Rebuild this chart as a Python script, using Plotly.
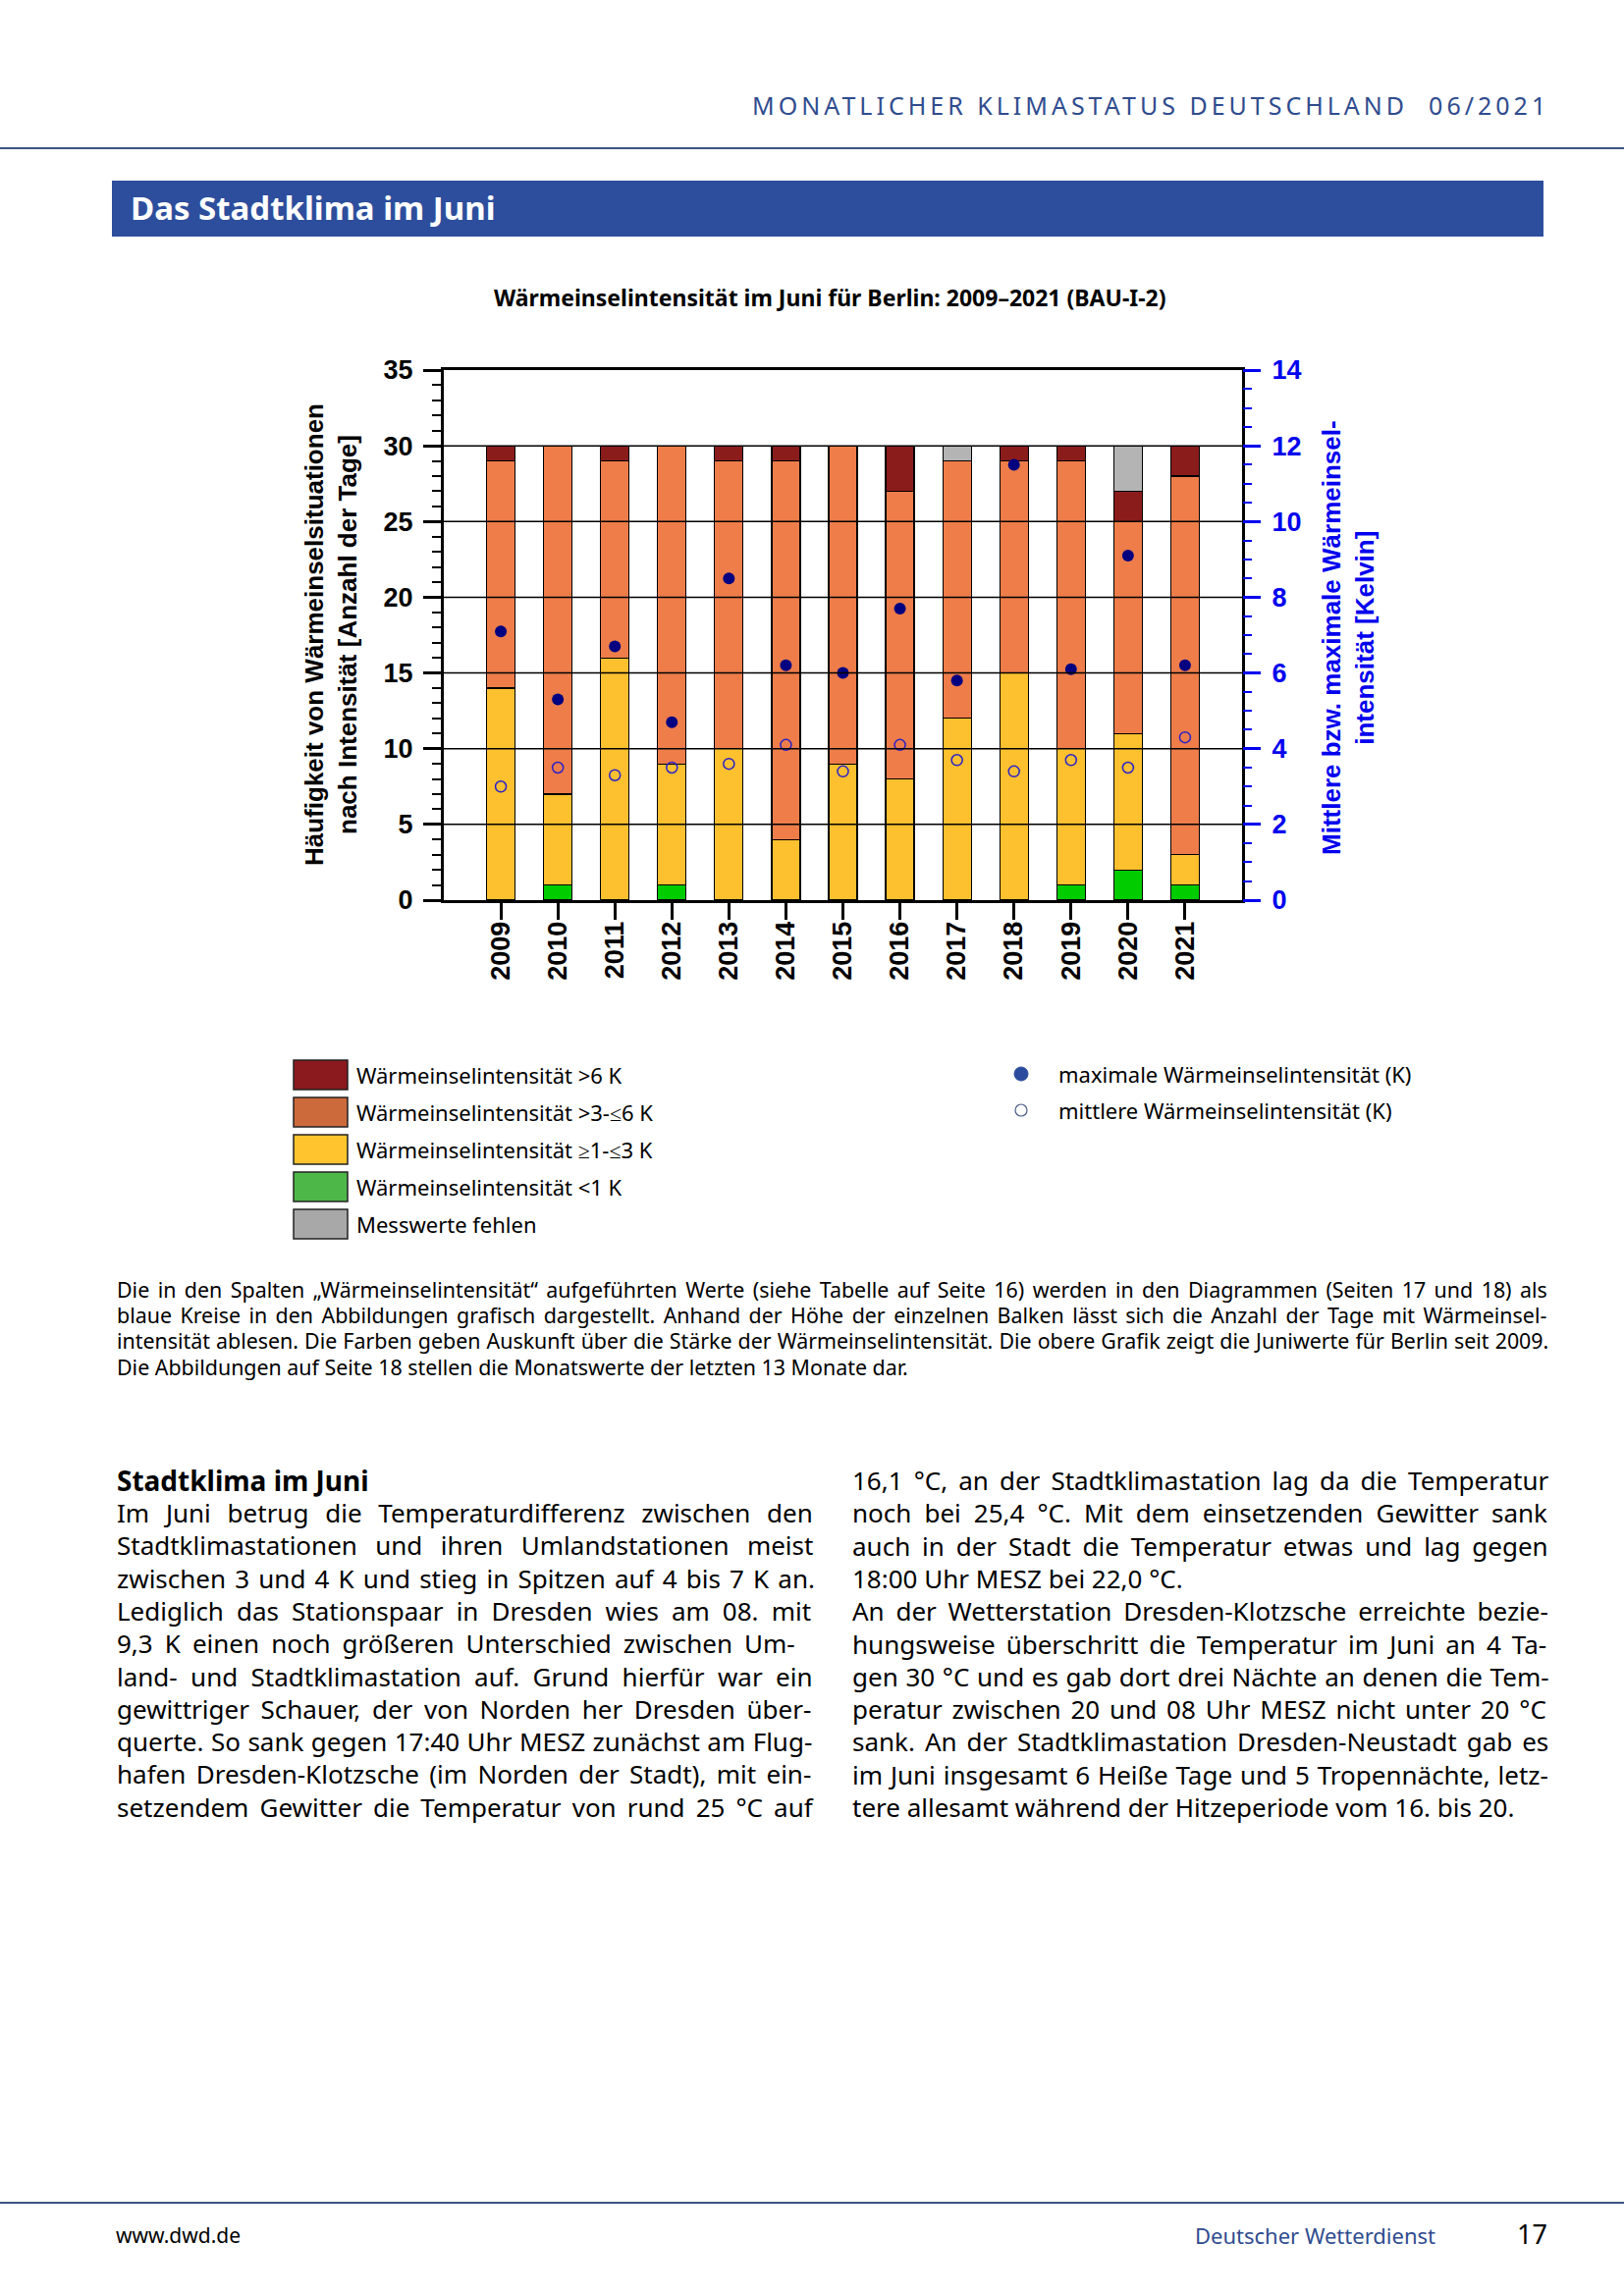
import plotly.graph_objects as go

W, H = 1654, 2339

# ---------------- data ----------------
years = [2009, 2010, 2011, 2012, 2013, 2014, 2015, 2016, 2017, 2018, 2019, 2020, 2021]
days_lt1 = [0, 1, 0, 1, 0, 0, 0, 0, 0, 0, 1, 2, 1]
days_1_3 = [14, 6, 16, 8, 10, 4, 9, 8, 12, 15, 9, 9, 2]
days_3_6 = [15, 23, 13, 21, 19, 25, 21, 19, 17, 14, 19, 14, 25]
days_gt6 = [1, 0, 1, 0, 1, 1, 0, 3, 0, 1, 1, 2, 2]
days_missing = [0, 0, 0, 0, 0, 0, 0, 0, 1, 0, 0, 3, 0]
max_intensity = [7.1, 5.3, 6.7, 4.7, 8.5, 6.2, 6.0, 7.7, 5.8, 11.5, 6.1, 9.1, 6.2]
mean_intensity = [3.0, 3.5, 3.3, 3.5, 3.6, 4.1, 3.4, 4.1, 3.7, 3.4, 3.7, 3.5, 4.3]

left_ticks = [0, 5, 10, 15, 20, 25, 30, 35]
right_ticks = [0, 2, 4, 6, 8, 10, 12, 14]

legend_labels = [
    "Wärmeinselintensität >6 K",
    "Wärmeinselintensität >3-≤6 K",
    "Wärmeinselintensität ≥1-≤3 K",
    "Wärmeinselintensität <1 K",
    "Messwerte fehlen",
]
legend_colors = ["#8B1A1E", "#CD6A3B", "#FFC42E", "#4DB848", "#A8A8A8"]

caption_lines = [
    "Die in den Spalten \u201eWärmeinselintensität\u201c aufgeführten Werte (siehe Tabelle auf Seite 16) werden in den Diagrammen (Seiten 17 und 18) als",
    "blaue Kreise in den Abbildungen grafisch dargestellt. Anhand der Höhe der einzelnen Balken lässt sich die Anzahl der Tage mit Wärmeinsel-",
    "intensität ablesen. Die Farben geben Auskunft über die Stärke der Wärmeinselintensität. Die obere Grafik zeigt die Juniwerte für Berlin seit 2009.",
    "Die Abbildungen auf Seite 18 stellen die Monatswerte der letzten 13 Monate dar.",
]
left_col = [
    "Im Juni betrug die Temperaturdifferenz zwischen den",
    "Stadtklimastationen und ihren Umlandstationen meist",
    "zwischen 3 und 4 K und stieg in Spitzen auf 4 bis 7 K an.",
    "Lediglich das Stationspaar in Dresden wies am 08. mit",
    "9,3 K einen noch größeren Unterschied zwischen Um-",
    "land- und Stadtklimastation auf. Grund hierfür war ein",
    "gewittriger Schauer, der von Norden her Dresden über-",
    "querte. So sank gegen 17:40 Uhr MESZ zunächst am Flug-",
    "hafen Dresden-Klotzsche (im Norden der Stadt), mit ein-",
    "setzendem Gewitter die Temperatur von rund 25 °C auf",
]
right_col = [
    "16,1 °C, an der Stadtklimastation lag da die Temperatur",
    "noch bei 25,4 °C. Mit dem einsetzenden Gewitter sank",
    "auch in der Stadt die Temperatur etwas und lag gegen",
    "18:00 Uhr MESZ bei 22,0 °C.",
    "An der Wetterstation Dresden-Klotzsche erreichte bezie-",
    "hungsweise überschritt die Temperatur im Juni an 4 Ta-",
    "gen 30 °C und es gab dort drei Nächte an denen die Tem-",
    "peratur zwischen 20 und 08 Uhr MESZ nicht unter 20 °C",
    "sank. An der Stadtklimastation Dresden-Neustadt gab es",
    "im Juni insgesamt 6 Heiße Tage und 5 Tropennächte, letz-",
    "tere allesamt während der Hitzeperiode vom 16. bis 20.",
]

# extra word spacing (px) used to justify the text lines (0 = paragraph end)
caption_ws = [2.9, 2.9, 0.5, 0]
left_ws = [10.0, 11.6, 2.4, 6.3, 5.3, 6.6, 4.9, 0.7, 3.6, 4.3]
right_ws = [4.3, 6.3, 5.1, 0, 5.0, 4.3, 0.9, 3.1, 3.2, 1.1, 0]

# ---------------- helpers ----------------
def px(x):
    return x / W

def py(y):
    return 1 - y / H

def nz(v):
    return [None if a == 0 else a for a in v]

def justified(text, ws):
    if ws <= 0:
        return text
    return '<span style="word-spacing:%.1fpx">%s</span>' % (ws, text)

BLUE_PAGE = "#2F4C8E"
CHART_FONT = "Liberation Sans"
PAGE_FONT = "Noto Sans"
AXIS_BLUE = "#0000EE"

fig = go.Figure()

bar_series = [
    (days_lt1, "#00CC00", "Wärmeinselintensität <1 K"),
    (days_1_3, "#FDC02F", "Wärmeinselintensität ≥1-≤3 K"),
    (days_3_6, "#EE7D4A", "Wärmeinselintensität >3-≤6 K"),
    (days_gt6, "#8B1C1C", "Wärmeinselintensität >6 K"),
    (days_missing, "#B4B4B4", "Messwerte fehlen"),
]
for vals, col, name in bar_series:
    fig.add_trace(go.Bar(
        x=years, y=nz(vals), name=name, width=0.5,
        marker=dict(color=col, line=dict(color="black", width=1.2)),
        showlegend=False, yaxis="y",
    ))

fig.add_trace(go.Scatter(
    x=years, y=mean_intensity, mode="markers", yaxis="y2", showlegend=False,
    name="mittlere Wärmeinselintensität (K)",
    marker=dict(symbol="circle-open", size=11, color="#2A22C8", line=dict(width=1.5)),
))
fig.add_trace(go.Scatter(
    x=years, y=max_intensity, mode="markers", yaxis="y2", showlegend=False,
    name="maximale Wärmeinselintensität (K)",
    marker=dict(symbol="circle", size=12, color="#000080"),
))

x0p, x1p = 452, 1265
y0p, y1p = 377, 917

fig.update_layout(
    width=W, height=H,
    margin=dict(l=0, r=0, t=0, b=0),
    template="none",
    paper_bgcolor="white", plot_bgcolor="white",
    barmode="stack",
    showlegend=False,
    xaxis=dict(
        domain=[px(x0p), px(x1p)], range=[2008, 2022],
        tickmode="array", tickvals=years, ticktext=[str(y) for y in years],
        tickangle=-90, ticks="outside", ticklen=17, tickwidth=3, tickcolor="black",
        ticklabelstandoff=-9,
        tickfont=dict(family=CHART_FONT, size=27, color="black", weight="bold"),
        showline=True, mirror=True, linewidth=3, linecolor="black",
        showgrid=False, zeroline=False, automargin=False,
    ),
    yaxis=dict(
        domain=[py(y1p), py(y0p)], range=[0, 35],
        tickmode="array", tickvals=left_ticks,
        ticks="outside", ticklen=18, tickwidth=3, tickcolor="black",
        ticklabelstandoff=5,
        minor=dict(ticks="outside", ticklen=9, tickwidth=1.5, tickcolor="black", dtick=1, showgrid=False),
        tickfont=dict(family=CHART_FONT, size=27, color="black", weight="bold"),
        showline=True, mirror=True, linewidth=3, linecolor="black",
        showgrid=False, zeroline=False, automargin=False,
    ),
    yaxis2=dict(
        overlaying="y", side="right", range=[0, 14],
        tickmode="array", tickvals=right_ticks,
        ticks="outside", ticklen=18, tickwidth=3, tickcolor=AXIS_BLUE,
        ticklabelstandoff=6,
        minor=dict(ticks="outside", ticklen=9, tickwidth=1.5, tickcolor=AXIS_BLUE, dtick=0.5, showgrid=False),
        tickfont=dict(family=CHART_FONT, size=27, color=AXIS_BLUE, weight="bold"),
        showline=False, showgrid=False, zeroline=False, automargin=False,
    ),
)

shapes = []
annotations = []

# gridlines above bars
for v in left_ticks[1:-1]:
    shapes.append(dict(type="line", xref="x domain", yref="y", x0=0, x1=1, y0=v, y1=v,
                       line=dict(color="black", width=1.5), layer="above"))

# header
annotations.append(dict(
    xref="paper", yref="paper", x=px(1580), y=py(107), xanchor="right", yanchor="middle",
    text='<span style="letter-spacing:4px">MONATLICHER KLIMASTATUS DEUTSCHLAND\u00a0\u00a006/2021</span>',
    showarrow=False, font=dict(family=PAGE_FONT, size=25, color=BLUE_PAGE),
))
shapes.append(dict(type="line", xref="paper", yref="paper", x0=0, x1=1, y0=py(151), y1=py(151),
                   line=dict(color="#3A5583", width=2)))
# banner
shapes.append(dict(type="rect", xref="paper", yref="paper", x0=px(114), x1=px(1572), y0=py(241), y1=py(184),
                   fillcolor="#2D4E9C", line=dict(width=0)))
annotations.append(dict(
    xref="paper", yref="paper", x=px(131), y=py(212), xanchor="left", yanchor="middle",
    text="<b>Das Stadtklima im Juni</b>", showarrow=False,
    font=dict(family=PAGE_FONT, size=33, color="white"),
))

# chart title
annotations.append(dict(
    xref="paper", yref="paper", x=px(846), y=py(303), xanchor="center", yanchor="middle",
    text="<b>Wärmeinselintensität im Juni für Berlin: 2009\u20132021 (BAU-I-2)</b>", showarrow=False,
    font=dict(family=PAGE_FONT, size=23, color="black"),
))

# axis titles
annotations.append(dict(
    xref="paper", yref="paper", x=px(337), y=py(647), xanchor="center", yanchor="middle",
    text="<b>Häufigkeit von Wärmeinselsituationen<br>nach Intensität [Anzahl der Tage]</b>",
    textangle=-90, showarrow=False,
    font=dict(family=CHART_FONT, size=26, color="black"),
))
annotations.append(dict(
    xref="paper", yref="paper", x=px(1373), y=py(650), xanchor="center", yanchor="middle",
    text="<b>Mittlere bzw. maximale Wärmeinsel-<br>intensität [Kelvin]</b>",
    textangle=-90, showarrow=False,
    font=dict(family=CHART_FONT, size=26, color=AXIS_BLUE),
))

# legend (left column)
leg_rows = [1095, 1133, 1171, 1209, 1247]
for lab, col, yc in zip(legend_labels, legend_colors, leg_rows):
    shapes.append(dict(type="rect", xref="paper", yref="paper", x0=px(299), x1=px(354),
                       y0=py(yc + 15), y1=py(yc - 15), fillcolor=col, line=dict(color="#222222", width=1.5)))
    annotations.append(dict(
        xref="paper", yref="paper", x=px(361), y=py(yc), xanchor="left", yanchor="middle",
        text=lab, showarrow=False, font=dict(family=PAGE_FONT, size=22, color="black"),
    ))
# legend (right column)
shapes.append(dict(type="circle", xref="paper", yref="paper", x0=px(1033), x1=px(1047),
                   y0=py(1101), y1=py(1087), fillcolor="#2B4C9C", line=dict(color="#2B4C9C", width=1)))
shapes.append(dict(type="circle", xref="paper", yref="paper", x0=px(1034), x1=px(1046),
                   y0=py(1137), y1=py(1125), fillcolor="white", line=dict(color="#4A5C8A", width=1.2)))
annotations.append(dict(
    xref="paper", yref="paper", x=px(1076), y=py(1094), xanchor="left", yanchor="middle",
    text="maximale Wärmeinselintensität (K)", showarrow=False,
    font=dict(family=PAGE_FONT, size=22, color="black"),
))
annotations.append(dict(
    xref="paper", yref="paper", x=px(1076), y=py(1131), xanchor="left", yanchor="middle",
    text="mittlere Wärmeinselintensität (K)", showarrow=False,
    font=dict(family=PAGE_FONT, size=22, color="black"),
))

# caption
for i, (line, ws) in enumerate(zip(caption_lines, caption_ws)):
    annotations.append(dict(
        xref="paper", yref="paper", x=px(117), y=py(1313 + 26.4 * i), xanchor="left", yanchor="middle",
        text=justified(line, ws), showarrow=False, font=dict(family=PAGE_FONT, size=21.4, color="black"),
    ))

# body columns
annotations.append(dict(
    xref="paper", yref="paper", x=px(117), y=py(1508), xanchor="left", yanchor="middle",
    text="<b>Stadtklima im Juni</b>", showarrow=False,
    font=dict(family=PAGE_FONT, size=28, color="black"),
))
for i, (line, ws) in enumerate(zip(left_col, left_ws)):
    annotations.append(dict(
        xref="paper", yref="paper", x=px(117), y=py(1541 + 33.3 * i), xanchor="left", yanchor="middle",
        text=justified(line, ws), showarrow=False, font=dict(family=PAGE_FONT, size=26, color="black"),
    ))
for i, (line, ws) in enumerate(zip(right_col, right_ws)):
    annotations.append(dict(
        xref="paper", yref="paper", x=px(866), y=py(1508 + 33.3 * i), xanchor="left", yanchor="middle",
        text=justified(line, ws), showarrow=False, font=dict(family=PAGE_FONT, size=26, color="black"),
    ))

# footer
shapes.append(dict(type="line", xref="paper", yref="paper", x0=0, x1=1, y0=py(2244), y1=py(2244),
                   line=dict(color="#3A5583", width=2)))
annotations.append(dict(
    xref="paper", yref="paper", x=px(116), y=py(2277), xanchor="left", yanchor="middle",
    text="www.dwd.de", showarrow=False, font=dict(family=PAGE_FONT, size=21, color="black"),
))
annotations.append(dict(
    xref="paper", yref="paper", x=px(1464), y=py(2277), xanchor="right", yanchor="middle",
    text="Deutscher Wetterdienst", showarrow=False, font=dict(family=PAGE_FONT, size=22, color=BLUE_PAGE),
))
annotations.append(dict(
    xref="paper", yref="paper", x=px(1560), y=py(2275), xanchor="center", yanchor="middle",
    text="17", showarrow=False, font=dict(family=PAGE_FONT, size=27, color="black"),
))

fig.update_layout(shapes=shapes, annotations=annotations)

fig.write_html(
    "out.html",
    config={"displayModeBar": False},
    post_script="document.body.style.margin='0';document.body.style.overflow='hidden';",
)
